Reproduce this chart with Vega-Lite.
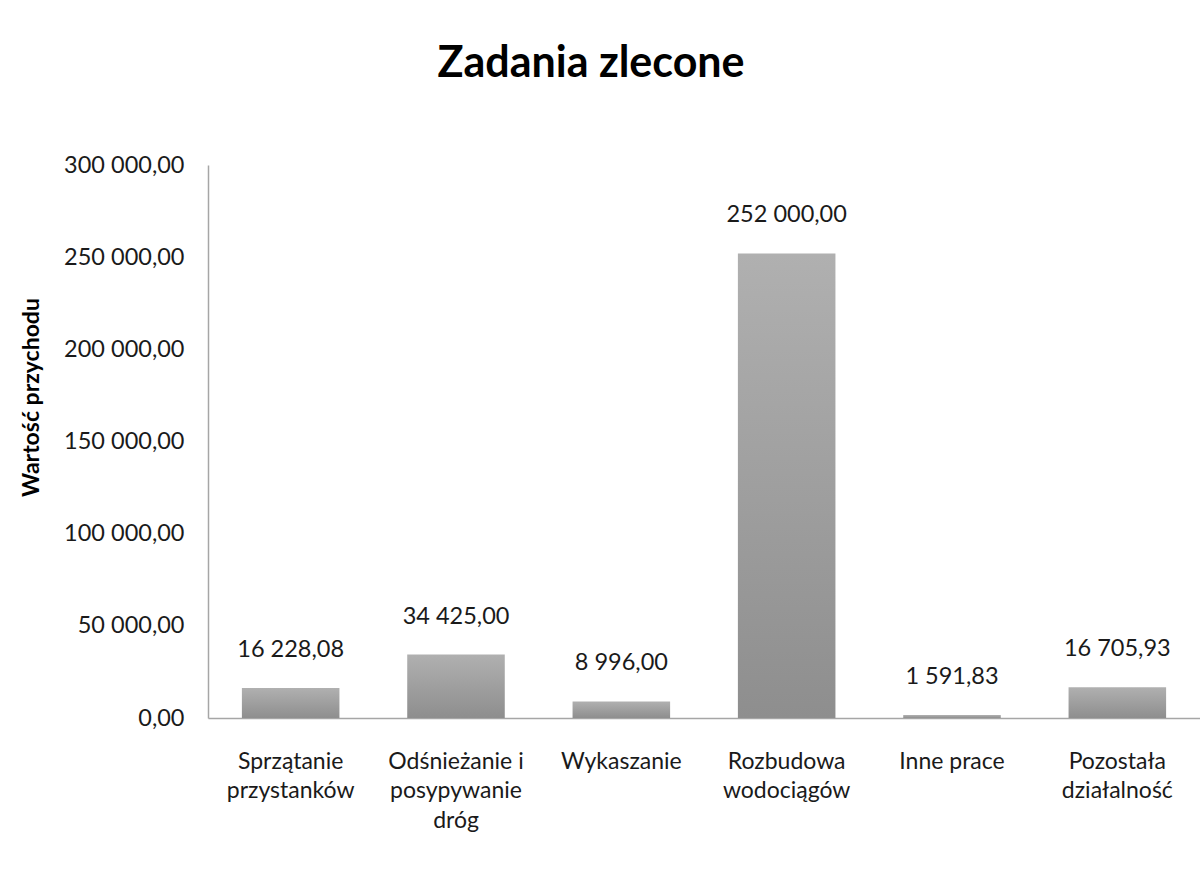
{
  "$schema": "https://vega.github.io/schema/vega-lite/v6.json",
  "width": 992,
  "height": 553,
  "autosize": {"type": "none"},
  "padding": {"left": 208, "top": 165, "right": 0, "bottom": 158},
  "background": "white",
  "config": {
    "locale": {"number": {"decimal": ",", "thousands": " ", "grouping": [3], "currency": ["", " zł"]}},
    "view": {"stroke": null},
    "font": "Lato"
  },
  "title": {
    "text": "Zadania zlecone",
    "font": "Lato",
    "fontSize": 43,
    "fontWeight": "bold",
    "color": "#000000",
    "anchor": "middle",
    "frame": "group",
    "dx": -113,
    "baseline": "alphabetic",
    "offset": 33
  },
  "data": {
    "values": [
      {"kategoria": "Sprzątanie|przystanków", "wartosc": 16228.08},
      {"kategoria": "Odśnieżanie i|posypywanie|dróg", "wartosc": 34425.00},
      {"kategoria": "Wykaszanie", "wartosc": 8996.00},
      {"kategoria": "Rozbudowa|wodociągów", "wartosc": 252000.00},
      {"kategoria": "Inne prace", "wartosc": 1591.83},
      {"kategoria": "Pozostała|działalność", "wartosc": 16705.93}
    ]
  },
  "encoding": {
    "x": {
      "field": "kategoria",
      "type": "nominal",
      "sort": null,
      "scale": {"paddingInner": 0.41, "paddingOuter": 0.205},
      "axis": {
        "title": null,
        "labelAngle": 0,
        "labelExpr": "split(datum.value, '|')",
        "labelFont": "Lato",
        "labelFontSize": 23,
        "labelLineHeight": 29.5,
        "labelColor": "#1a1a1a",
        "labelPadding": 32,
        "labelBaseline": "top",
        "ticks": false,
        "domainColor": "#a6a6a6",
        "domainWidth": 1.5
      }
    },
    "y": {
      "field": "wartosc",
      "type": "quantitative",
      "scale": {"domain": [0, 300000], "nice": false},
      "axis": {
        "title": "Wartość przychodu",
        "titleFont": "Lato",
        "titleFontSize": 23,
        "titleFontWeight": "bold",
        "titleColor": "#000000",
        "titleAngle": 270,
        "titleAlign": "center",
        "titleBaseline": "middle",
        "titleX": -177,
        "titleY": 232,
        "values": [0, 50000, 100000, 150000, 200000, 250000, 300000],
        "format": ",.2f",
        "labelFont": "Lato",
        "labelFontSize": 23.5,
        "labelColor": "#1a1a1a",
        "labelPadding": 24,
        "ticks": false,
        "grid": false,
        "domainColor": "#a6a6a6",
        "domainWidth": 1.5
      }
    }
  },
  "layer": [
    {
      "mark": {
        "type": "bar",
        "color": {
          "gradient": "linear",
          "x1": 0, "y1": 0, "x2": 0, "y2": 1,
          "stops": [
            {"offset": 0, "color": "#b0b0b0"},
            {"offset": 1, "color": "#8e8e8e"}
          ]
        }
      }
    },
    {
      "mark": {
        "type": "text",
        "font": "Lato",
        "fontSize": 23.5,
        "color": "#1a1a1a",
        "baseline": "middle",
        "dy": -38
      },
      "encoding": {
        "text": {"field": "wartosc", "type": "quantitative", "format": ",.2f"}
      }
    }
  ]
}
